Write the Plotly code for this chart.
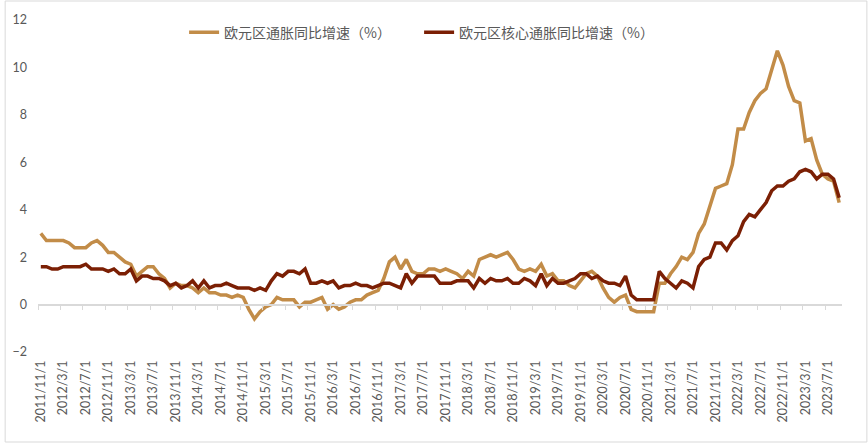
import pandas as pd
import plotly.graph_objects as go

# ---- data ----
months = [d.strftime("%Y/%-m/1") for d in pd.date_range("2011-11-01", "2023-09-01", freq="MS")]

headline = [
    3.0, 2.7,
    2.7, 2.7, 2.7, 2.6, 2.4, 2.4, 2.4, 2.6, 2.7, 2.5, 2.2, 2.2,
    2.0, 1.8, 1.7, 1.2, 1.4, 1.6, 1.6, 1.3, 1.1, 0.7, 0.9, 0.8,
    0.8, 0.7, 0.5, 0.7, 0.5, 0.5, 0.4, 0.4, 0.3, 0.4, 0.3, -0.2,
    -0.6, -0.3, -0.1, 0.0, 0.3, 0.2, 0.2, 0.2, -0.1, 0.1, 0.1, 0.2,
    0.3, -0.2, 0.0, -0.2, -0.1, 0.1, 0.2, 0.2, 0.4, 0.5, 0.6, 1.1,
    1.8, 2.0, 1.5, 1.9, 1.4, 1.3, 1.3, 1.5, 1.5, 1.4, 1.5, 1.4,
    1.3, 1.1, 1.4, 1.2, 1.9, 2.0, 2.1, 2.0, 2.1, 2.2, 1.9, 1.5,
    1.4, 1.5, 1.4, 1.7, 1.2, 1.3, 1.0, 1.0, 0.8, 0.7, 1.0, 1.3,
    1.4, 1.2, 0.7, 0.3, 0.1, 0.3, 0.4, -0.2, -0.3, -0.3, -0.3, -0.3,
    0.9, 0.9, 1.3, 1.6, 2.0, 1.9, 2.2, 3.0, 3.4, 4.1, 4.9, 5.0,
    5.1, 5.9, 7.4, 7.4, 8.1, 8.6, 8.9, 9.1, 9.9, 10.7, 10.1, 9.2,
    8.6, 8.5, 6.9, 7.0, 6.1, 5.5, 5.3, 5.2, 4.3,
]

core = [
    1.6, 1.6,
    1.5, 1.5, 1.6, 1.6, 1.6, 1.6, 1.7, 1.5, 1.5, 1.5, 1.4, 1.5,
    1.3, 1.3, 1.5, 1.0, 1.2, 1.2, 1.1, 1.1, 1.0, 0.8, 0.9, 0.7,
    0.8, 1.0, 0.7, 1.0, 0.7, 0.8, 0.8, 0.9, 0.8, 0.7, 0.7, 0.7,
    0.6, 0.7, 0.6, 1.0, 1.3, 1.2, 1.4, 1.4, 1.3, 1.5, 0.9, 0.9,
    1.0, 0.9, 1.0, 0.7, 0.8, 0.8, 0.9, 0.8, 0.8, 0.7, 0.8, 0.9,
    0.9, 0.8, 0.7, 1.3, 0.9, 1.2, 1.2, 1.2, 1.2, 0.9, 0.9, 0.9,
    1.0, 1.0, 1.0, 0.7, 1.1, 0.9, 1.1, 1.0, 1.0, 1.1, 0.9, 0.9,
    1.1, 1.0, 0.8, 1.3, 0.8, 1.1, 0.9, 0.9, 1.0, 1.1, 1.3, 1.3,
    1.1, 1.2, 1.0, 0.9, 0.9, 0.8, 1.2, 0.4, 0.2, 0.2, 0.2, 0.2,
    1.4, 1.1, 0.9, 0.7, 1.0, 0.9, 0.7, 1.6, 1.9, 2.0, 2.6, 2.6,
    2.3, 2.7, 2.9, 3.5, 3.8, 3.7, 4.0, 4.3, 4.8, 5.0, 5.0, 5.2,
    5.3, 5.6, 5.7, 5.6, 5.3, 5.5, 5.5, 5.3, 4.5,
]

name_headline = "欧元区通胀同比增速（%）"
name_core = "欧元区核心通胀同比增速（%）"

# ---- figure ----
idx = list(range(len(months)))
label_idx = idx[::4]
label_txt = [months[i] for i in label_idx]
boundary_ticks = [i - 0.5 for i in idx[::4]]

W, H = 868, 443
ML, MR, MT, MB = 34, 26, 20, 91
pw, ph = W - ML - MR, H - MT - MB
ymin, ymax = -2, 12

fig = go.Figure()
fig.add_trace(go.Scatter(x=idx, y=headline, mode="lines", name=name_headline,
                         line=dict(color="#C28C48", width=3.5)))
fig.add_trace(go.Scatter(x=idx, y=core, mode="lines", name=name_core,
                         line=dict(color="#7B1F04", width=3.5)))
# dummy trace to register the zero-line category axis
fig.add_trace(go.Scatter(x=[None], y=[None], xaxis="x2", showlegend=False, hoverinfo="skip"))

grey = "#595959"
fig.update_layout(
    width=W, height=H,
    margin=dict(l=ML, r=MR, t=MT, b=MB),
    paper_bgcolor="white", plot_bgcolor="white",
    font=dict(family="Lato, 'Noto Sans CJK SC', sans-serif", color=grey),
    showlegend=True,
    legend=dict(orientation="h", x=0.474, xanchor="center", y=0.962, yanchor="middle",
                font=dict(family="'Noto Sans CJK SC'", size=14, color=grey),
                bgcolor="rgba(0,0,0,0)", itemwidth=30,
                entrywidth=190, entrywidthmode="pixels"),
    xaxis=dict(range=[-0.5, len(months) - 0.5], tickmode="array", tickvals=label_idx,
               ticktext=label_txt, tickangle=-90, showgrid=False, zeroline=False,
               showline=False, ticks="", tickfont=dict(size=12.5, color=grey),
               ticklabelstandoff=5),
    xaxis2=dict(range=[-0.5, len(months) - 0.5], overlaying="x", anchor="free",
                position=(0 - ymin) / (ymax - ymin), tickmode="array",
                tickvals=boundary_ticks, showticklabels=False, ticks="outside",
                ticklen=5, tickcolor="#D9D9D9", tickwidth=1, showline=True,
                linecolor="#D9D9D9", linewidth=1.5, showgrid=False, zeroline=False),
    yaxis=dict(range=[ymin, ymax], dtick=2, showgrid=False, zeroline=False,
               showline=False, ticks="", tickfont=dict(size=12.5, color=grey),
               ticklabelstandoff=10),
    shapes=[dict(type="rect", xref="paper", yref="paper",
                 x0=(1 - ML) / pw, x1=(W - 1 - ML) / pw,
                 y0=-(MB - 1) / ph, y1=1 + (MT - 1) / ph,
                 line=dict(color="#D9D9D9", width=1), layer="below")],
)

fig.write_html("out.html", config={"displayModeBar": False})

# remove default page margin so the figure sits at the window origin
with open("out.html", encoding="utf-8") as f:
    html = f.read()
html = html.replace("<body>", '<body style="margin:0;padding:0;overflow:hidden">', 1)
with open("out.html", "w", encoding="utf-8") as f:
    f.write(html)
